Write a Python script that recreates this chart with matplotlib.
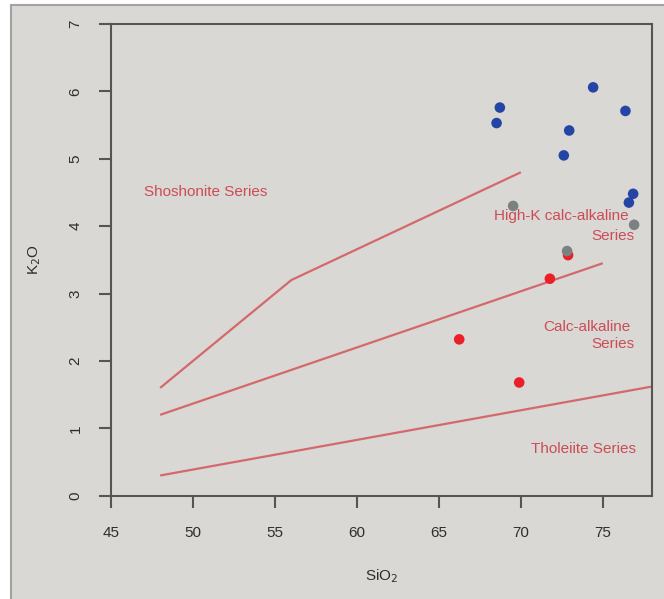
import matplotlib
matplotlib.use("Agg")
import matplotlib.pyplot as plt
from matplotlib.patches import Rectangle

plt.rcParams['font.family'] = ['Liberation Sans', 'DejaVu Sans']

# Sample compositions (wt%)
blue_sio2 = [74.41, 68.72, 68.52, 76.38, 72.95, 72.62, 76.85, 76.59]
blue_k2o = [6.06, 5.76, 5.53, 5.71, 5.42, 5.05, 4.48, 4.35]

red_sio2 = [72.88, 71.77, 66.24, 69.90]
red_k2o = [3.57, 3.22, 2.32, 1.68]

gray_sio2 = [69.53, 76.91, 72.82]
gray_k2o = [4.30, 4.02, 3.63]

# Series boundaries (Peccerillo & Taylor style)
sho_sio2 = [48, 56, 70]
sho_k2o = [1.6, 3.2, 4.8]
hk_sio2 = [48, 75]
hk_k2o = [1.2, 3.45]
th_sio2 = [48, 78]
th_k2o = [0.3, 1.62]

x_ticks = [45, 50, 55, 60, 65, 70, 75]
y_ticks = [0, 1, 2, 3, 4, 5, 6, 7]

W, H = 664, 599
bg = '#d9d8d4'
fig = plt.figure(figsize=(W / 100, H / 100), dpi=100, facecolor='white')

# panel frame
frame = Rectangle((11 / W, -0.01), 1.0, (H - 5) / H + 0.01,
                  transform=fig.transFigure, facecolor=bg,
                  edgecolor='#a2a2a2', linewidth=1.5, zorder=-10)
fig.patches.append(frame)

ax = fig.add_axes([111 / W, (H - 495.7) / H, (652 - 111) / W, (495.7 - 24) / H])
ax.set_zorder(5)
ax.set_facecolor(bg)
ax.set_xlim(45, 78)
ax.set_ylim(0, 7)

line_c = '#d4696b'
for xs, ys in [(sho_sio2, sho_k2o), (hk_sio2, hk_k2o), (th_sio2, th_k2o)]:
    ax.plot(xs, ys, color=line_c, lw=1.6, solid_capstyle='butt', zorder=2)

ms = 58
ax.scatter(blue_sio2, blue_k2o, s=ms, color='#2445a6', edgecolors='none', zorder=3)
ax.scatter(red_sio2, red_k2o, s=ms, color='#ea1f28', edgecolors='none', zorder=3)
ax.scatter(gray_sio2, gray_k2o, s=ms, color='#7b8081', edgecolors='none', zorder=4)

txt_c = '#cc4c55'
fs = 11
ax.text(47.0, 4.5, 'Shoshonite Series', color=txt_c, fontsize=fs, ha='left', va='center')
ax.text(76.55, 4.15, 'High-K calc-alkaline', color=txt_c, fontsize=fs, ha='right', va='center')
ax.text(76.95, 3.86, 'Series', color=txt_c, fontsize=fs, ha='right', va='center')
ax.text(76.7, 2.51, 'Calc-alkaline', color=txt_c, fontsize=fs, ha='right', va='center')
ax.text(76.95, 2.25, 'Series', color=txt_c, fontsize=fs, ha='right', va='center')
ax.text(77.0, 0.69, 'Tholeiite Series', color=txt_c, fontsize=fs, ha='right', va='center')

ax.set_xticks(x_ticks)
ax.set_yticks(y_ticks)
ax.set_xticklabels([str(v) for v in x_ticks])
ax.set_yticklabels([str(v) for v in y_ticks], rotation=90, va='center')

spine_c = '#555555'
for sp in ax.spines.values():
    sp.set_color(spine_c)
    sp.set_linewidth(1.5)
ax.tick_params(axis='both', length=8.5, width=1.5, color=spine_c,
               labelcolor='#2e2e2e', labelsize=11)
ax.tick_params(axis='x', pad=13)
ax.tick_params(axis='y', pad=12)

ax.set_xlabel('SiO$_2$', fontsize=11, color='#2e2e2e')
ax.set_ylabel('K$_2$O', fontsize=11, color='#2e2e2e')
ax.xaxis.set_label_coords(0.5, -(567 - 495.7) / (495.7 - 24))
ax.yaxis.set_label_coords(-(111 - 43) / (652 - 111), 0.5)

fig.savefig('out.png', dpi=100, facecolor='white')
